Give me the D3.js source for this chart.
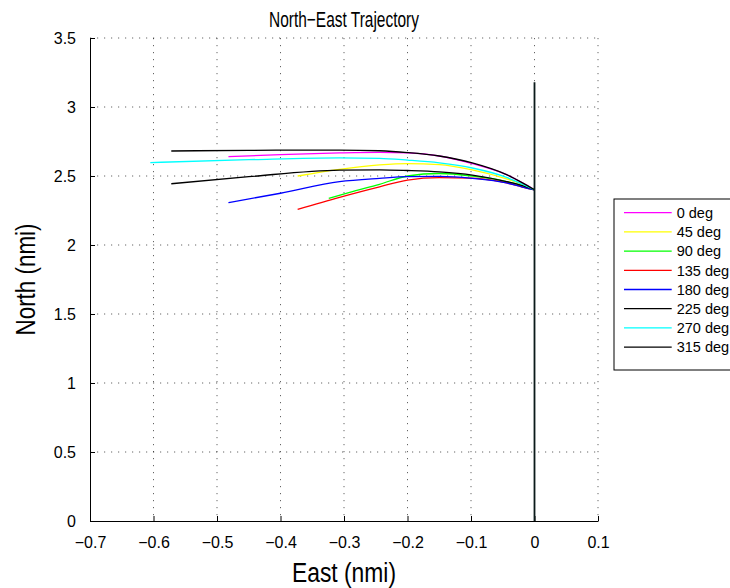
<!DOCTYPE html>
<html>
<head>
<meta charset="utf-8">
<script src="https://cdn.jsdelivr.net/npm/d3@7"></script>
<style>
  body { margin: 0; background: #fff; }
  svg { display: block; font-family: "Liberation Sans", Arial, Helvetica, sans-serif; }
  .grid line { stroke: #000; stroke-width: 1; stroke-dasharray: 1.2 5.8; opacity: 0.6; }
</style>
</head>
<body>
<div id="chart"></div>
<script>
// Headings (degrees) and legend labels
const headings = ['0 deg', '45 deg', '90 deg', '135 deg', '180 deg', '225 deg', '270 deg', '315 deg'];
const colors = ['#ff00ff', '#ffff00', '#00ff00', '#ff0000', '#0000ff', '#000000', '#00ffff', '#000000'];

// East / North samples (nmi), one pair of arrays per heading
const east0 = [-0.482, -0.40, -0.307, -0.244, -0.20, -0.15, -0.098, -0.044, -0.019, 0];
const north0 = [2.640, 2.655, 2.667, 2.671, 2.667, 2.645, 2.590, 2.510, 2.450, 2.40];

const east45 = [-0.373, -0.307, -0.244, -0.20, -0.15, -0.098, -0.044, -0.019, 0];
const north45 = [2.500, 2.548, 2.580, 2.590, 2.583, 2.545, 2.480, 2.440, 2.40];

const east90 = [-0.324, -0.291, -0.244, -0.20, -0.15, -0.098, -0.044, -0.019, 0];
const north90 = [2.338, 2.382, 2.440, 2.500, 2.518, 2.500, 2.460, 2.430, 2.40];

const east135 = [-0.373, -0.307, -0.244, -0.20, -0.15, -0.098, -0.044, -0.019, 0];
const north135 = [2.259, 2.346, 2.422, 2.470, 2.488, 2.485, 2.450, 2.420, 2.40];

const east180 = [-0.482, -0.40, -0.307, -0.244, -0.20, -0.15, -0.098, -0.044, -0.019, 0];
const north180 = [2.307, 2.375, 2.459, 2.483, 2.495, 2.497, 2.483, 2.450, 2.420, 2.40];

const east225 = [-0.572, -0.45, -0.307, -0.244, -0.20, -0.15, -0.098, -0.044, -0.019, 0];
const north225 = [2.444, 2.495, 2.543, 2.545, 2.540, 2.530, 2.507, 2.460, 2.430, 2.40];

const east270 = [-0.605, -0.45, -0.307, -0.244, -0.20, -0.15, -0.098, -0.044, -0.019, 0];
const north270 = [2.597, 2.618, 2.632, 2.628, 2.615, 2.595, 2.558, 2.490, 2.440, 2.40];

const east315 = [-0.572, -0.45, -0.307, -0.244, -0.20, -0.15, -0.098, -0.044, -0.019, 0];
const north315 = [2.681, 2.686, 2.688, 2.683, 2.670, 2.645, 2.595, 2.510, 2.450, 2.40];

// straight northbound leg along East = 0
const eastLeg = [0, 0];
const northLeg = [0, 3.18];

const xTicks = [-0.7, -0.6, -0.5, -0.4, -0.3, -0.2, -0.1, 0, 0.1];
const yTicks = [0, 0.5, 1, 1.5, 2, 2.5, 3, 3.5];

const eastSets = [east0, east45, east90, east135, east180, east225, east270, east315];
const northSets = [north0, north45, north90, north135, north180, north225, north270, north315];

const series = headings.map((h, i) => ({
  name: h,
  color: colors[i],
  points: eastSets[i].map((e, j) => ({ e: e, n: northSets[i][j] }))
}));

const width = 730, height = 588;
const margin = { top: 38, right: 132, bottom: 67, left: 90 };
const w = width - margin.left - margin.right;
const h = height - margin.top - margin.bottom;

const svg = d3.select('#chart').append('svg')
  .attr('width', width)
  .attr('height', height);

const chart = svg.append('g')
  .attr('transform', 'translate(' + margin.left + ',' + margin.top + ')');

const x = d3.scaleLinear().domain([-0.7, 0.1]).range([0, w]);
const y = d3.scaleLinear().domain([0, 3.5]).range([h, 0]);

const fmt = d => d === 0 ? '0' : d3.format('.1f')(d).replace('-', '\u2212');
const fmtY = d => d3.format('')(d);

// dotted grid
const grid = chart.append('g').attr('class', 'grid');
grid.selectAll('.gx').data(xTicks.slice(1)).enter().append('line')
  .attr('x1', d => x(d)).attr('x2', d => x(d))
  .attr('y1', 0).attr('y2', h);
grid.selectAll('.gy').data(yTicks.slice(1)).enter().append('line')
  .attr('x1', 0).attr('x2', w)
  .attr('y1', d => y(d)).attr('y2', d => y(d));

// axes with inward ticks
const xAxis = d3.axisBottom(x).tickValues(xTicks).tickFormat(fmt).tickSizeInner(-5).tickSizeOuter(0).tickPadding(16);
const yAxis = d3.axisLeft(y).tickValues(yTicks).tickFormat(fmtY).tickSizeInner(-5).tickSizeOuter(0).tickPadding(14);

const gx = chart.append('g')
  .attr('transform', 'translate(0,' + h + ')')
  .call(xAxis);
const gy = chart.append('g').call(yAxis);

[gx, gy].forEach(g => {
  g.select('.domain').attr('stroke', '#000');
  g.selectAll('.tick line').attr('stroke', '#000');
  g.selectAll('.tick text')
    .attr('fill', '#000')
    .attr('font-size', 16)
    .attr('font-family', '"Liberation Sans", Arial, sans-serif');
});

// trajectories
const line = d3.line()
  .curve(d3.curveMonotoneX)
  .x(d => x(d.e))
  .y(d => y(d.n));

chart.selectAll('.traj')
  .data(series)
  .enter()
  .append('path')
  .attr('class', 'traj')
  .attr('fill', 'none')
  .attr('stroke', d => d.color)
  .attr('stroke-width', 1.3)
  .attr('d', d => line(d.points));

chart.append('path')
  .datum(eastLeg.map((e, j) => ({ e: e, n: northLeg[j] })))
  .attr('fill', 'none')
  .attr('stroke', '#0b1a1a')
  .attr('stroke-width', 1.8)
  .attr('d', d3.line().x(d => x(d.e)).y(d => y(d.n)));

// title and axis labels (condensed like the original export)
svg.append('text')
  .attr('x', margin.left + w / 2)
  .attr('y', 27)
  .attr('text-anchor', 'middle')
  .attr('font-size', 22)
  .attr('textLength', 150)
  .attr('lengthAdjust', 'spacingAndGlyphs')
  .text('North\u2212East Trajectory');

svg.append('text')
  .attr('x', margin.left + w / 2)
  .attr('y', 582)
  .attr('text-anchor', 'middle')
  .attr('font-size', 27)
  .attr('textLength', 104)
  .attr('lengthAdjust', 'spacingAndGlyphs')
  .text('East (nmi)');

svg.append('text')
  .attr('transform', 'translate(35,' + (margin.top + h / 2) + ') rotate(-90)')
  .attr('text-anchor', 'middle')
  .attr('font-size', 27)
  .attr('textLength', 112)
  .attr('lengthAdjust', 'spacingAndGlyphs')
  .text('North (nmi)');

// legend
const legend = svg.append('g').attr('transform', 'translate(614,199)');
legend.append('rect')
  .attr('width', 140).attr('height', 171)
  .attr('fill', '#fff').attr('stroke', '#000').attr('stroke-width', 1);

const item = legend.selectAll('.item')
  .data(series)
  .enter()
  .append('g')
  .attr('transform', (d, i) => 'translate(0,' + (13.7 + i * 19.2) + ')');

item.append('line')
  .attr('x1', 10).attr('x2', 57.7)
  .attr('stroke', d => d.color)
  .attr('stroke-width', 1.3);

item.append('text')
  .attr('x', 62.7)
  .attr('y', 5.3)
  .attr('font-size', 14.5)
  .text(d => d.name);
</script>
</body>
</html>
